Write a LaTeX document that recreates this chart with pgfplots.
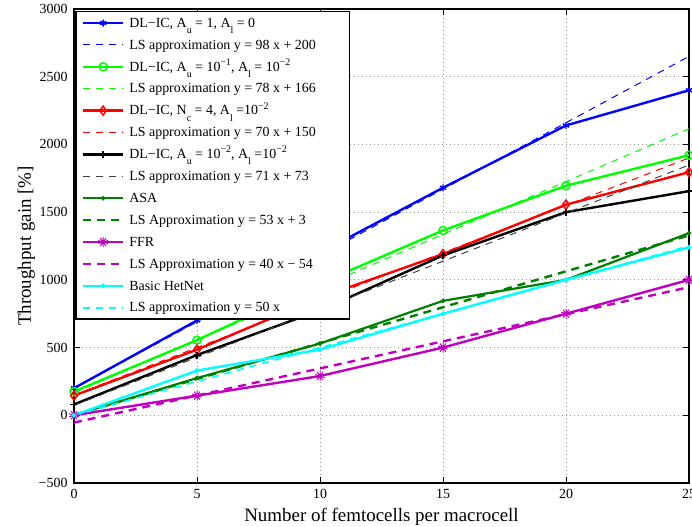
\documentclass[border=0pt]{standalone}
\usepackage{fontspec}
\setmainfont{Liberation Serif}
\usepackage{pgfplots}
\pgfplotsset{compat=1.18}
\usetikzlibrary{plotmarks}

\definecolor{cgreen}{rgb}{0,1,0}
\definecolor{cdkgreen}{rgb}{0,0.5,0}
\definecolor{cmag}{rgb}{0.75,0,0.75}
\definecolor{ccyan}{rgb}{0,1,1}

% MATLAB-like low subscripts / superscripts in the legend
\newcommand{\sub}[1]{\raisebox{-0.45em}{\fontsize{10}{10}\selectfont #1}}
\newcommand{\super}[1]{\raisebox{0.42em}{\fontsize{10}{10}\selectfont #1}}
\newcommand{\lgd}[1]{\makebox[214bp][l]{#1}}

\begin{document}
\begin{tikzpicture}
\begin{axis}[
    name=ax,
    scale only axis,
    width=615bp, height=474bp,
    xmin=0, xmax=25, ymin=-500, ymax=3000,
    xtick={0,5,10,15,20,25},
    ytick={-500,0,500,1000,1500,2000,2500,3000},
    yticklabels={−500,0,500,1000,1500,2000,2500,3000},
    /pgf/number format/assume math mode=true,
    grid=major,
    major grid style={dash pattern=on 1bp off 3bp, gray!80, line width=0.8bp},
    tick align=inside,
    major tick length=6bp,
    axis line style={line width=1.6bp},
    tick style={line width=1bp, black},
    ticklabel style={font=\fontsize{14}{16}\selectfont},
    xticklabel style={yshift=-3bp},
    yticklabel style={xshift=-3bp},
    label style={font=\fontsize{19}{22}\selectfont},
    xlabel={Number of femtocells per macrocell},
    xlabel style={yshift=-2bp},
    ylabel={Throughput gain [\%]},
    ylabel style={yshift=-3bp},
    legend cell align=left,
    legend style={at={(0.002,0.996)}, anchor=north west, draw=black,
        line width=1.4bp, fill=white, inner xsep=6bp, inner ysep=0.5bp,
        font=\fontsize{14}{16}\selectfont, row sep=0pt,
        nodes={inner sep=0pt, text height=15.2bp, text depth=6.7bp}},
    legend image code/.code={
        \draw[mark repeat=2,mark phase=2,#1] plot coordinates {(0bp,0bp) (20bp,0bp) (40bp,0bp)};
        \path (45bp,0bp);},
]
% DL-IC, Au = 1, Al = 0
\addplot[color=blue, line width=2.4bp, mark=asterisk, mark size=3.5bp, mark options={line width=1.4bp}]
    coordinates {(0,200) (5,700) (10,1200) (15,1680) (20,2140) (25,2400)};
\addlegendentry{\lgd{DL−IC, A\sub{u} = 1, A\sub{l} = 0}}
\addplot[color=blue, line width=1bp, dash pattern=on 7bp off 6bp]
    coordinates {(0,200) (25,2650)};
\addlegendentry{\lgd{LS approximation y = 98 x + 200}}
% DL-IC, Au = 1e-1, Al = 1e-2
\addplot[color=cgreen, line width=2.4bp, mark=o, mark size=4bp, mark options={line width=1.5bp}]
    coordinates {(0,175) (5,555) (10,975) (15,1365) (20,1695) (25,1920)};
\addlegendentry{\lgd{DL−IC, A\sub{u} = 10\super{−1}, A\sub{l} = 10\super{−2}}}
\addplot[color=cgreen, line width=1bp, dash pattern=on 7bp off 6bp]
    coordinates {(0,166) (25,2116)};
\addlegendentry{\lgd{LS approximation y = 78 x + 166}}
% DL-IC, Nc = 4
\addplot[color=red, line width=2.4bp, mark=diamond, mark size=4.5bp, mark options={line width=1.5bp}]
    coordinates {(0,145) (5,485) (10,870) (15,1190) (20,1555) (25,1795)};
\addlegendentry{\lgd{DL−IC, N\sub{c} = 4, A\sub{l} =10\super{−2}}}
\addplot[color=red, line width=1bp, dash pattern=on 7bp off 6bp]
    coordinates {(0,150) (25,1900)};
\addlegendentry{\lgd{LS approximation y = 70 x + 150}}
% DL-IC, Au = 1e-2
\addplot[color=black, line width=2.4bp, mark=+, mark size=3.5bp, mark options={line width=1.4bp}]
    coordinates {(0,80) (5,445) (10,775) (15,1180) (20,1500) (25,1655)};
\addlegendentry{\lgd{DL−IC, A\sub{u} = 10\super{−2}, A\sub{l} =10\super{−2}}}
\addplot[color=black!75, line width=1bp, dash pattern=on 7bp off 6bp]
    coordinates {(0,73) (25,1848)};
\addlegendentry{\lgd{LS approximation y = 71 x + 73}}
% ASA
\addplot[color=cdkgreen, line width=2.2bp, mark=*, mark size=1bp]
    coordinates {(0,0) (5,275) (10,530) (15,845) (20,1000) (25,1345)};
\addlegendentry{\lgd{ASA}}
\addplot[color=cdkgreen, line width=2.4bp, dash pattern=on 8bp off 6bp]
    coordinates {(0,3) (25,1328)};
\addlegendentry{\lgd{LS Approximation y = 53 x + 3}}
% FFR
\addplot[color=cmag, line width=2.4bp, mark=10-pointed star, mark size=5bp, mark options={fill=cmag, line width=1bp}]
    coordinates {(0,0) (5,145) (10,290) (15,500) (20,750) (25,1000)};
\addlegendentry{\lgd{FFR}}
\addplot[color=cmag, line width=2.4bp, dash pattern=on 8bp off 6bp]
    coordinates {(0,-54) (25,946)};
\addlegendentry{\lgd{LS Approximation y = 40 x − 54}}
% Basic HetNet
\addplot[color=ccyan, line width=2.4bp, mark=*, mark size=1bp]
    coordinates {(0,0) (5,330) (10,485) (15,750) (20,1000) (25,1240)};
\addlegendentry{\lgd{Basic HetNet}}
\addplot[color=ccyan, line width=1.6bp, dash pattern=on 7bp off 6bp]
    coordinates {(0,0) (25,1250)};
\addlegendentry{\lgd{LS approximation y = 50 x}}
\end{axis}
\pgfresetboundingbox
\path ([xshift=-74bp,yshift=-44bp]ax.south west) rectangle ([xshift=3bp,yshift=9bp]ax.north east);
\end{tikzpicture}
\end{document}
